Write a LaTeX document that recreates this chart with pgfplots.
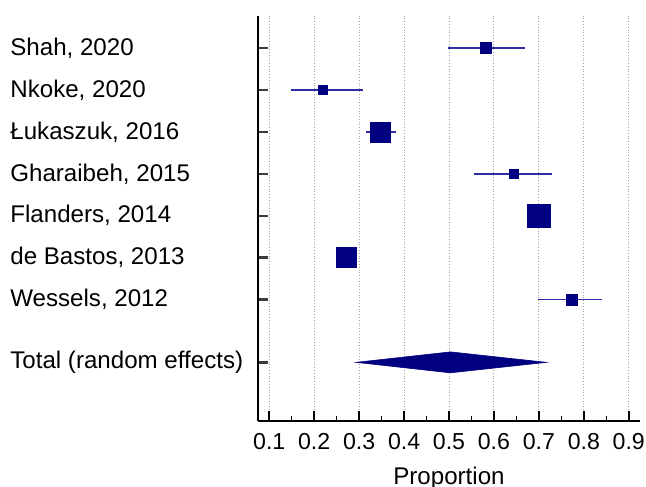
\documentclass[border=0pt]{standalone}
\usepackage{pgfplots}
\pgfplotsset{compat=1.18}
\usepackage{fontspec}
\setmainfont{Liberation Sans}
\definecolor{navy}{RGB}{0,0,128}
\definecolor{cil}{RGB}{45,45,165}
\definecolor{tickgray}{RGB}{60,60,60}
\begin{document}
\begin{tikzpicture}
\begin{axis}[
  name=ax,
  scale only axis,
  width=191bp, height=202.5bp,
  xmin=0.075, xmax=0.925, ymin=0.1, ymax=9.77,
  axis x line=bottom, axis y line=left,
  axis line style={-, line width=1bp, black},
  xtick={0.1,0.2,0.3,0.4,0.5,0.6,0.7,0.8,0.9},
  minor x tick num=1,
  xticklabel style={/pgf/number format/fixed, /pgf/number format/precision=1, /pgf/number format/fixed zerofill, font=\fontsize{11.6}{13}\selectfont, yshift=-2.5bp},
  /pgf/number format/assume math mode=true,
  ytick={1.5,3,4,5,6,7,8,9},
  yticklabels={{Total (random effects)},{Wessels, 2012},{de Bastos, 2013},{Flanders, 2014},{Gharaibeh, 2015},{Łukaszuk, 2016},{Nkoke, 2020},{Shah, 2020}},
  yticklabel style={anchor=west, xshift=-124bp, inner sep=0pt, font=\fontsize{12.1}{14}\selectfont},
  tick align=inside,
  major tick length=5bp, minor tick length=2.5bp,
  x tick style={black, line width=0.8bp},
  y tick style={tickgray, line width=1.2bp},
  minor x tick style={black, line width=0.7bp},
  xmajorgrids,
  grid style={densely dotted, gray!75, line width=0.5bp},
  xlabel={Proportion},
  xlabel style={font=\fontsize{12.1}{14}\selectfont, at={(axis description cs:0.5,0)}, anchor=center, yshift=-28.5bp},
]
% confidence intervals
\addplot[cil, line width=0.9bp, forget plot] coordinates {(0.497,9) (0.670,9)};
\addplot[cil, line width=0.9bp, forget plot] coordinates {(0.148,8) (0.309,8)};
\addplot[cil, line width=0.9bp, forget plot] coordinates {(0.315,7) (0.381,7)};
\addplot[cil, line width=0.9bp, forget plot] coordinates {(0.555,6) (0.730,6)};
\addplot[cil, line width=0.9bp, forget plot] coordinates {(0.688,5) (0.712,5)};
\addplot[cil, line width=0.9bp, forget plot] coordinates {(0.262,4) (0.280,4)};
\addplot[cil, line width=0.9bp, forget plot] coordinates {(0.697,3) (0.840,3)};
% point estimates
\addplot[only marks, mark=square*, mark size=2.75bp, mark options={draw=navy, fill=navy}] coordinates {(0.583,9)};
\addplot[only marks, mark=square*, mark size=2.35bp, mark options={draw=navy, fill=navy}] coordinates {(0.220,8)};
\addplot[only marks, mark=square*, mark size=5.0bp, mark options={draw=navy, fill=navy}] coordinates {(0.347,7)};
\addplot[only marks, mark=square*, mark size=2.35bp, mark options={draw=navy, fill=navy}] coordinates {(0.644,6)};
\addplot[only marks, mark=square*, mark size=5.65bp, mark options={draw=navy, fill=navy}] coordinates {(0.700,5)};
\addplot[only marks, mark=square*, mark size=5.0bp, mark options={draw=navy, fill=navy}] coordinates {(0.271,4)};
\addplot[only marks, mark=square*, mark size=2.8bp, mark options={draw=navy, fill=navy}] coordinates {(0.773,3)};
% pooled estimate
\addplot[fill=navy, draw=navy, line width=0.3bp] coordinates {(0.293,1.5) (0.503,1.75) (0.717,1.5) (0.503,1.25)} -- cycle;
\end{axis}
\pgfresetboundingbox
\path[use as bounding box] ([shift={(-129bp,-33bp)}]ax.south west) rectangle ([shift={(3bp,8bp)}]ax.north east);
\end{tikzpicture}
\end{document}
